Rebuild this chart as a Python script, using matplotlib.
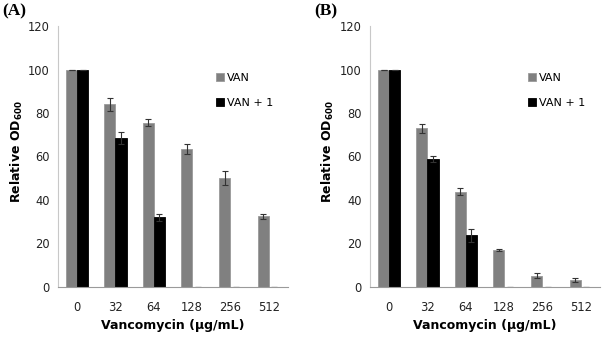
import numpy as np
import matplotlib.pyplot as plt

plt.rcParams['font.family'] = ['DejaVu Sans']

categories = ['0', '32', '64', '128', '256', '512']

# panel A
van_a = [100, 84, 75.5, 63.5, 50, 32.5]
van_a_err = [0, 2.9, 1.6, 2.3, 3.3, 1.1]
van1_a = [100, 68.5, 32, 0, 0, 0]
van1_a_err = [0, 2.8, 1.6, 0, 0, 0]

# panel B
van_b = [100, 72.9, 43.9, 17, 5.2, 3.1]
van_b_err = [0, 2.0, 1.8, 0.6, 1.0, 0.8]
van1_b = [100, 58.8, 23.8, 0, 0, 0]
van1_b_err = [0, 1.2, 3.0, 0, 0, 0]

fig = plt.figure(figsize=(6.02, 3.38), dpi=100)


def draw_panel(ax, van, van_err, van1, van1_err, tag, ylab_x):
    x = np.arange(len(categories))
    w = 0.29
    ax.bar(x - w / 2, van, w, color='#808080', edgecolor='#999999', linewidth=0.6,
           yerr=van_err, error_kw=dict(ecolor='#333333', elinewidth=0.8, capsize=2.5, capthick=0.8),
           label='VAN')
    ax.bar(x + w / 2, van1, w, color='#000000', edgecolor='#000000', linewidth=0.6,
           yerr=van1_err, error_kw=dict(ecolor='#333333', elinewidth=0.8, capsize=2.5, capthick=0.8),
           label='VAN + 1')
    ax.set_xlim(-0.5, len(categories) - 0.5)
    ax.set_ylim(0, 120)
    ax.set_yticks(range(0, 121, 20))
    ax.set_xticks(x)
    ax.set_xticklabels(categories)
    ax.tick_params(length=0, labelsize=8.3, colors='#222222', pad=6)
    ax.tick_params(axis='x', pad=10)
    for s in ['top', 'right']:
        ax.spines[s].set_visible(False)
    ax.spines['left'].set_color('#c8c8c8')
    ax.spines['bottom'].set_color('#9a9a9a')
    ax.set_xlabel('Vancomycin (µg/mL)', fontsize=9, fontweight='bold')
    ax.xaxis.set_label_coords(0.5, -0.146)
    ax.xaxis.label.set_va('center')
    ax.set_ylabel('Relative OD$_{\\mathbf{600}}$', fontsize=9, fontweight='bold')
    ax.yaxis.set_label_coords(ylab_x, 0.52)
    ax.yaxis.label.set_va('center')
    ax.legend(loc='upper right', bbox_to_anchor=(0.98, 0.858), frameon=False,
              fontsize=8, handlelength=0.7, handleheight=0.7, handletextpad=0.3,
              labelspacing=1.35)
    fig.text(ax.get_position().x0 - 0.093, 0.99, tag, fontsize=12.5, fontweight='bold',
             family='Liberation Serif', va='top', ha='left')


ax1 = fig.add_axes([0.0963, 0.151, 0.382, 0.772])
draw_panel(ax1, van_a, van_a_err, van1_a, van1_a_err, '(A)', -0.178)
ax2 = fig.add_axes([0.6146, 0.151, 0.382, 0.772])
draw_panel(ax2, van_b, van_b_err, van1_b, van1_b_err, '(B)', -0.183)

fig.savefig('out.png', dpi=100)
